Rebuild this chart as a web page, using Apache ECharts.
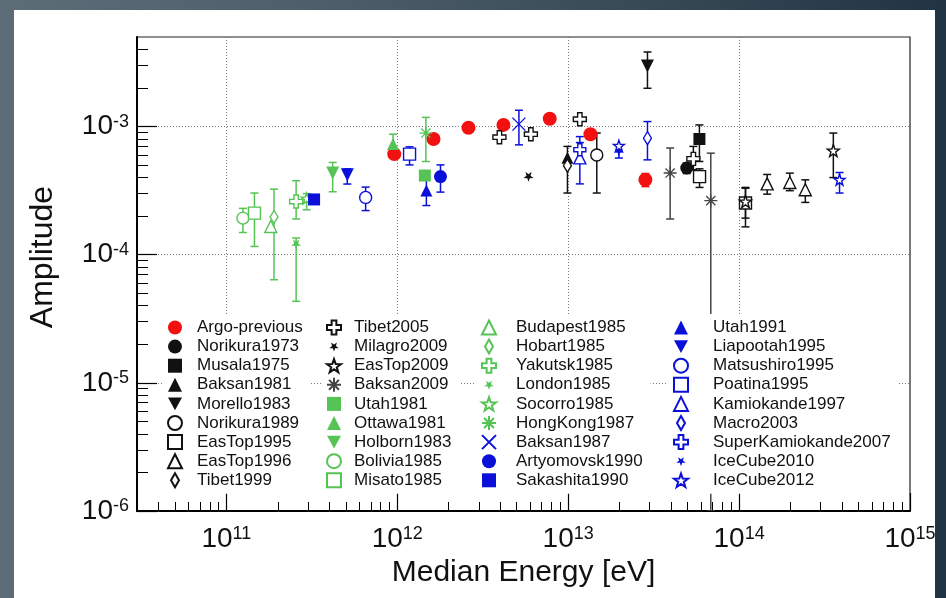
<!DOCTYPE html>
<html>
<head>
<meta charset="utf-8">
<script src="https://cdn.jsdelivr.net/npm/echarts@6/dist/echarts.min.js"></script>
<style>
  html, body { margin: 0; padding: 0; width: 946px; height: 598px; overflow: hidden; }
  body { position: relative; background: linear-gradient(90deg, #5d6d78 0%, #4d5e6a 35%, #324551 75%, #203444 100%); }
  #panel { position: absolute; left: 14px; top: 10px; width: 921px; height: 588px; background: #fff; }
  #chart { position: absolute; left: 0; top: 0; width: 946px; height: 598px; }
</style>
</head>
<body>
<div id="panel"></div>
<div id="chart"></div>
<script>
// Each point: [median energy (eV), amplitude, lower bound, upper bound]; bounds are optional.
const argoPrevious = [[9.6e11, 6.1e-4], [1.63e12, 8.0e-4], [2.61e12, 9.8e-4], [4.18e12, 1.03e-3], [7.8e12, 1.15e-3], [1.35e13, 8.7e-4], [2.83e13, 3.85e-4, 3.4e-4, 4.3e-4]];
const norikura1973 = [[4.94e13, 4.75e-4, 4.3e-4, 5.2e-4]];
const musala1975 = [[5.86e13, 8.0e-4, 5.34e-4, 1.03e-3]];
const baksan1981 = [[9.9e12, 5.7e-4]];
const morello1983 = [[2.91e13, 2.97e-3, 1.99e-3, 3.82e-3]];
const norikura1989 = [[1.47e13, 6.0e-4, 3.03e-4, 8.9e-4]];
const easTop1995 = [[5.87e13, 4.07e-4, 3.35e-4, 4.68e-4], [1.09e14, 2.53e-4, 1.65e-4, 3.35e-4]];
const easTop1996 = [[1.46e14, 3.57e-4, 2.97e-4, 4.23e-4], [1.98e14, 3.66e-4, 3.16e-4, 4.33e-4], [2.44e14, 3.21e-4, 2.56e-4, 3.84e-4]];
const tibet1999 = [[9.9e12, 4.95e-4, 3.03e-4, 7.0e-4]];
const tibet2005 = [[3.96e12, 8.26e-4], [6.05e12, 8.72e-4], [1.17e13, 1.14e-3], [5.4e13, 5.6e-4, 4.6e-4, 7.0e-4]];
const milagro2009 = [[5.86e12, 4.05e-4]];
const easTop2009 = [[1.09e14, 2.6e-4, 1.93e-4, 3.3e-4], [3.56e14, 6.5e-4, 4.0e-4, 8.9e-4]];
const baksan2009 = [[3.95e13, 4.34e-4, 1.9e-4, 6.8e-4], [6.83e13, 2.64e-4, 1e-6, 6.2e-4]];
const utah1981 = [[1.45e12, 4.15e-4]];
const ottawa1981 = [[9.44e11, 7.3e-4, 6.1e-4, 8.72e-4]];
const holborn1983 = [[4.19e11, 4.34e-4, 3.1e-4, 5.25e-4]];
const bolivia1985 = [[1.25e11, 1.93e-4, 1.49e-4, 2.3e-4]];
const misato1985 = [[1.46e11, 2.11e-4, 1.16e-4, 3.03e-4]];
const budapest1985 = [[1.82e11, 1.66e-4]];
const hobart1985 = [[1.9e11, 1.97e-4, 6.38e-5, 3.25e-4]];
const yakutsk1985 = [[2.56e11, 2.6e-4, 1.9e-4, 3.78e-4]];
const london1985 = [[2.56e11, 1.2e-4, 4.33e-5, 1.35e-4]];
const socorro1985 = [[2.95e11, 2.75e-4, 2.24e-4, 3.0e-4]];
const hongKong1987 = [[1.47e12, 8.9e-4, 5.34e-4, 1.18e-3]];
const baksan1987 = [[5.15e12, 1.045e-3, 7.2e-4, 1.34e-3]];
const artyomovsk1990 = [[1.79e12, 4.07e-4, 3.08e-4, 5.02e-4]];
const sakashita1990 = [[3.26e11, 2.7e-4]];
const utah1991 = [[1.48e12, 3.17e-4, 2.42e-4, 3.96e-4]];
const liapootah1995 = [[5.1e11, 4.21e-4, 3.56e-4, 4.68e-4]];
const matsushiro1995 = [[6.53e11, 2.8e-4, 2.21e-4, 3.37e-4]];
const poatina1995 = [[1.18e12, 6.1e-4, 5.02e-4, 6.95e-4]];
const kamiokande1997 = [[1.17e13, 5.7e-4, 3.57e-4, 7.5e-4]];
const macro2003 = [[2.91e13, 8.12e-4, 5.5e-4, 1.094e-3]];
const superKamiokande2007 = [[1.17e13, 6.6e-4, 5.2e-4, 8.35e-4]];
const iceCube2010 = [[1.98e13, 6.4e-4, 5.68e-4, 7.2e-4]];
const iceCube2012 = [[1.98e13, 7.1e-4], [3.87e14, 3.85e-4, 3.03e-4, 4.38e-4]];

// Axis ranges and decade labels
const energyRange = [3e10, 1e15];
const amplitudeRange = [1e-6, 5e-3];
const energyDecades = [1e11, 1e12, 1e13, 1e14, 0.999999e15];
const amplitudeDecades = [1.000001e-6, 1e-5, 1e-4, 1e-3];

// Legend columns
const legendColumn1 = ['Argo-previous', 'Norikura1973', 'Musala1975', 'Baksan1981', 'Morello1983', 'Norikura1989', 'EasTop1995', 'EasTop1996', 'Tibet1999'];
const legendColumn2 = ['Tibet2005', 'Milagro2009', 'EasTop2009', 'Baksan2009', 'Utah1981', 'Ottawa1981', 'Holborn1983', 'Bolivia1985', 'Misato1985'];
const legendColumn3 = ['Budapest1985', 'Hobart1985', 'Yakutsk1985', 'London1985', 'Socorro1985', 'HongKong1987', 'Baksan1987', 'Artyomovsk1990', 'Sakashita1990'];
const legendColumn4 = ['Utah1991', 'Liapootah1995', 'Matsushiro1995', 'Poatina1995', 'Kamiokande1997', 'Macro2003', 'SuperKamiokande2007', 'IceCube2010', 'IceCube2012'];

// ---- styling ----
const FONT = '"Liberation Sans", Arial, Helvetica, sans-serif';
const RED = '#f21010', BLACK = '#111111', GREY = '#444444', GREEN = '#55c455', BLUE = '#0a10d8';

const PLUS = 'path://M3.3,0H6.7V3.3H10V6.7H6.7V10H3.3V6.7H0V3.3H3.3Z';
const ASTER = 'path://M5,0V10M0,5H10M1.46,1.46L8.54,8.54M8.54,1.46L1.46,8.54';
const XMARK = 'path://M0,0L10,10M10,0L0,10';
const STAR = 'path://M5,0L6.18,3.38L9.76,3.45L6.9,5.62L7.94,9.05L5,7L2.06,9.05L3.1,5.62L0.24,3.45L3.82,3.38Z';
const STAR_DOWN = 'path://M5,10L6.18,6.62L9.76,6.55L6.9,4.38L7.94,0.95L5,3L2.06,0.95L3.1,4.38L0.24,6.55L3.82,6.62Z';
const STAR_DOWN_SMALL = 'path://M-2,-2M12,12M5,10L6.18,6.62L9.76,6.55L6.9,4.38L7.94,0.95L5,3L2.06,0.95L3.1,4.38L0.24,6.55L3.82,6.62Z';
const THIN_DIAMOND = 'path://M4,0L8,7L4,14L0,7Z';
const TRI_DOWN = 'path://M0,0L10,0L5,9Z';

// kind: fill = solid marker, open = outlined marker, stroke = line-only marker
const markers = [
  ['Argo-previous', argoPrevious, 'circle', 14, RED, 'fill'],
  ['Norikura1973', norikura1973, 'circle', 13, BLACK, 'fill'],
  ['Musala1975', musala1975, 'rect', 12, BLACK, 'fill'],
  ['Baksan1981', baksan1981, 'triangle', 12, BLACK, 'fill'],
  ['Morello1983', morello1983, TRI_DOWN, 13, BLACK, 'fill'],
  ['Norikura1989', norikura1989, 'circle', 12, BLACK, 'open'],
  ['EasTop1995', easTop1995, 'rect', 12, BLACK, 'open'],
  ['EasTop1996', easTop1996, 'triangle', 12, BLACK, 'open'],
  ['Tibet1999', tibet1999, 'diamond', [8, 13], BLACK, 'open'],
  ['Tibet2005', tibet2005, PLUS, 13, BLACK, 'open'],
  ['Milagro2009', milagro2009, STAR_DOWN, 10, BLACK, 'fill'],
  ['EasTop2009', easTop2009, STAR, 12, BLACK, 'open'],
  ['Baksan2009', baksan2009, ASTER, 13, GREY, 'stroke'],
  ['Utah1981', utah1981, 'rect', 12, GREEN, 'fill'],
  ['Ottawa1981', ottawa1981, 'triangle', 12, GREEN, 'fill'],
  ['Holborn1983', holborn1983, TRI_DOWN, 13, GREEN, 'fill'],
  ['Bolivia1985', bolivia1985, 'circle', 12, GREEN, 'open'],
  ['Misato1985', misato1985, 'rect', 12, GREEN, 'open'],
  ['Budapest1985', budapest1985, 'triangle', 12, GREEN, 'open'],
  ['Hobart1985', hobart1985, 'diamond', [8, 13], GREEN, 'open'],
  ['Yakutsk1985', yakutsk1985, PLUS, 13, GREEN, 'open'],
  ['London1985', london1985, STAR_DOWN, 10, GREEN, 'fill'],
  ['Socorro1985', socorro1985, STAR, 11, GREEN, 'open'],
  ['HongKong1987', hongKong1987, ASTER, 13, GREEN, 'stroke'],
  ['Baksan1987', baksan1987, XMARK, 13, BLUE, 'stroke'],
  ['Artyomovsk1990', artyomovsk1990, 'circle', 13, BLUE, 'fill'],
  ['Sakashita1990', sakashita1990, 'rect', 12, BLUE, 'fill'],
  ['Utah1991', utah1991, 'triangle', 12, BLUE, 'fill'],
  ['Liapootah1995', liapootah1995, TRI_DOWN, 13, BLUE, 'fill'],
  ['Matsushiro1995', matsushiro1995, 'circle', 12, BLUE, 'open'],
  ['Poatina1995', poatina1995, 'rect', 12, BLUE, 'open'],
  ['Kamiokande1997', kamiokande1997, 'triangle', 12, BLUE, 'open'],
  ['Macro2003', macro2003, 'diamond', [8, 13], BLUE, 'open'],
  ['SuperKamiokande2007', superKamiokande2007, PLUS, 12, BLUE, 'open'],
  ['IceCube2010', iceCube2010, STAR_DOWN, 10, BLUE, 'fill'],
  ['IceCube2012', iceCube2012, STAR, 11, BLUE, 'open']
];

const legendIcons = {
  'Tibet1999': THIN_DIAMOND, 'Hobart1985': THIN_DIAMOND, 'Macro2003': THIN_DIAMOND,
  'Milagro2009': STAR_DOWN_SMALL, 'London1985': STAR_DOWN_SMALL, 'IceCube2010': STAR_DOWN_SMALL
};

function markerItemStyle(color, kind) {
  if (kind === 'fill') return { color: color, borderWidth: 0, opacity: 1 };
  if (kind === 'open') return { color: '#ffffff', borderColor: color, borderWidth: 1.4, opacity: 1 };
  return { color: color, borderColor: color, borderWidth: 1.3, opacity: 1 };
}

const CAP = 4;
function errorBarSeries(name, points, color) {
  const bars = points.filter(p => p.length >= 4).map(p => [p[0], p[2], p[3]]);
  return {
    type: 'custom',
    id: 'err-' + name,
    coordinateSystem: 'cartesian2d',
    clip: true,
    silent: true,
    z: 2,
    encode: { x: 0, y: [1, 2] },
    data: bars,
    renderItem: function (params, api) {
      const lo = api.coord([api.value(0), api.value(1)]);
      const hi = api.coord([api.value(0), api.value(2)]);
      const st = { stroke: color, lineWidth: 1.5 };
      return {
        type: 'group',
        children: [
          { type: 'line', shape: { x1: lo[0], y1: lo[1], x2: hi[0], y2: hi[1] }, style: st },
          { type: 'line', shape: { x1: lo[0] - CAP, y1: lo[1], x2: lo[0] + CAP, y2: lo[1] }, style: st },
          { type: 'line', shape: { x1: hi[0] - CAP, y1: hi[1], x2: hi[0] + CAP, y2: hi[1] }, style: st }
        ]
      };
    }
  };
}

const series = [];
markers.forEach(([name, points, symbol, size, color, kind]) => {
  series.push(errorBarSeries(name, points, color));
  series.push({
    type: 'scatter',
    name: name,
    data: points.map(p => [p[0], p[1]]),
    symbol: symbol,
    symbolSize: size,
    itemStyle: markerItemStyle(color, kind),
    z: 3,
    silent: true,
    emphasis: { disabled: true }
  });
});

function minorValues(lo, hi) {
  const out = [];
  for (let k = Math.floor(Math.log10(lo)); k <= Math.ceil(Math.log10(hi)); k++) {
    for (let m = 2; m <= 9; m++) {
      const v = m * Math.pow(10, k);
      if (v > lo * 1.0001 && v < hi * 0.9999) out.push(v);
    }
  }
  return out;
}

const powLabel = v => '{b|10}{s|' + Math.round(Math.log10(v)) + '}';
const richPow = {
  b: { fontSize: 28, lineHeight: 28, padding: [10, 0, 0, 0], verticalAlign: 'bottom', fontFamily: FONT, color: BLACK },
  s: { fontSize: 18, lineHeight: 18, verticalAlign: 'top', fontFamily: FONT, color: BLACK }
};

const legendColumns = [legendColumn1, legendColumn2, legendColumn3, legendColumn4];
const legendLeft = [162, 321, 476, 668];
const legendTextPad = [10, 8, 15, 20];

const option = {
  animation: false,
  backgroundColor: 'transparent',
  grid: {
    left: 137, right: 36, top: 37, bottom: 87,
    containLabel: false, outerBoundsMode: 'none',
    show: true, backgroundColor: '#ffffff', borderColor: '#222', borderWidth: 1.2
  },
  xAxis: [
    {
      type: 'log', logBase: 10, min: energyRange[0], max: energyRange[1],
      name: 'Median Energy [eV]', nameLocation: 'middle', nameGap: 41,
      nameTextStyle: { fontSize: 30, fontFamily: FONT, color: BLACK },
      axisLine: { show: true, onZero: false, lineStyle: { color: '#000', width: 2 } },
      axisTick: { show: true, inside: true, length: 18, customValues: energyDecades, lineStyle: { color: '#000', width: 1.2 } },
      axisLabel: { show: true, margin: 14, customValues: energyDecades, formatter: powLabel, rich: richPow, showMinLabel: true, showMaxLabel: true, hideOverlap: false },
      splitLine: { show: true, lineStyle: { color: '#777', width: 1, type: [1, 2] } },
      minorTick: { show: false }, minorSplitLine: { show: false }
    },
    {
      type: 'log', logBase: 10, min: energyRange[0], max: energyRange[1], position: 'bottom',
      axisLine: { show: false },
      axisTick: { show: true, inside: true, length: 9, customValues: minorValues(energyRange[0], energyRange[1]), lineStyle: { color: '#000', width: 1 } },
      axisLabel: { show: false }, splitLine: { show: false }
    }
  ],
  yAxis: [
    {
      type: 'log', logBase: 10, min: amplitudeRange[0], max: amplitudeRange[1],
      name: 'Amplitude', nameLocation: 'middle', nameGap: 78, nameRotate: 90,
      nameTextStyle: { fontSize: 32, fontFamily: FONT, color: BLACK, padding: [0, 0, 0, 34] },
      axisLine: { show: true, onZero: false, lineStyle: { color: '#000', width: 2 } },
      axisTick: { show: true, inside: true, length: 20, customValues: amplitudeDecades, lineStyle: { color: '#000', width: 1.2 } },
      axisLabel: { show: true, margin: 8, customValues: amplitudeDecades, formatter: powLabel, rich: richPow, showMinLabel: true, hideOverlap: false },
      splitLine: { show: true, lineStyle: { color: '#777', width: 1, type: [1, 2] } },
      minorTick: { show: false }, minorSplitLine: { show: false }
    },
    {
      type: 'log', logBase: 10, min: amplitudeRange[0], max: amplitudeRange[1], position: 'left',
      axisLine: { show: false },
      axisTick: { show: true, inside: true, length: 11, customValues: minorValues(amplitudeRange[0], amplitudeRange[1]), lineStyle: { color: '#000', width: 1 } },
      axisLabel: { show: false }, splitLine: { show: false }
    }
  ],
  legend: legendColumns.map((names, i) => ({
    orient: 'vertical', left: legendLeft[i], top: 314,
    padding: [5, 8, 5, 5], backgroundColor: '#ffffff',
    itemWidth: 14, itemHeight: 14, itemGap: 2.1,
    selectedMode: false, z: 10,
    textStyle: { fontSize: 17, fontFamily: FONT, color: BLACK, padding: [0, 0, 0, legendTextPad[i]] },
    data: names.map(n => legendIcons[n] ? { name: n, icon: legendIcons[n] } : { name: n })
  })),
  series: series
};

const chart = echarts.init(document.getElementById('chart'), null, { renderer: 'canvas' });
chart.setOption(option);
</script>
</body>
</html>
